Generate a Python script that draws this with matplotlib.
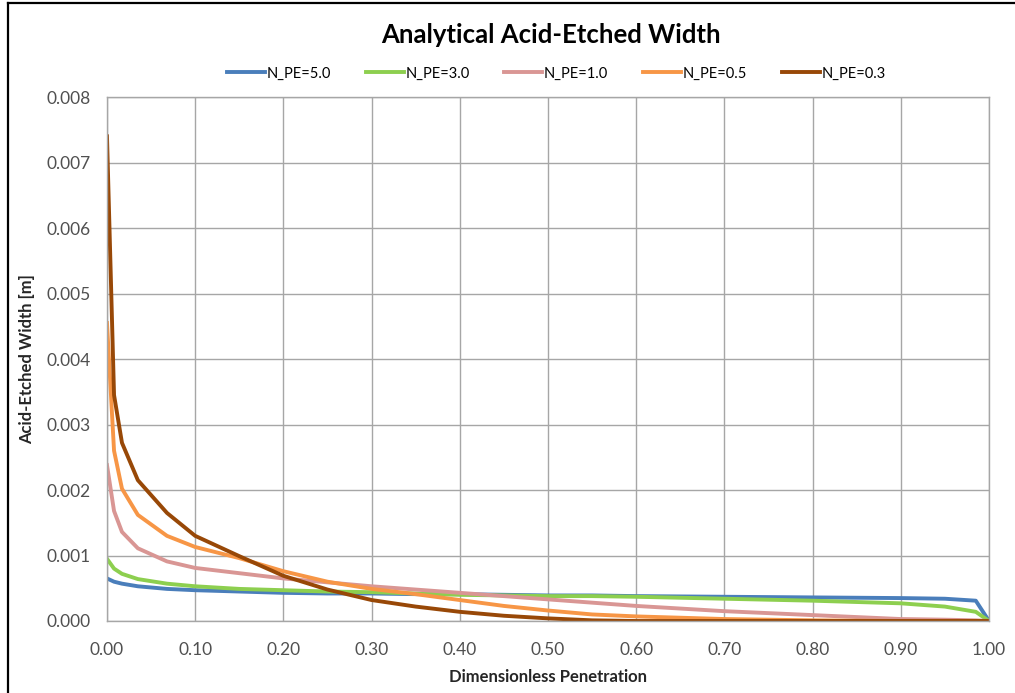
import numpy as np
import matplotlib.pyplot as plt
from matplotlib.lines import Line2D

# Dimensionless penetration nodes
x_pen = [0.0, 0.008, 0.017, 0.035, 0.068, 0.1, 0.15, 0.2, 0.25, 0.3, 0.35, 0.4, 0.45,
         0.5, 0.55, 0.6, 0.7, 0.8, 0.9, 0.95, 0.985, 1.0]

# Acid-etched width [m] per Peclet number
w_pe_5_0 = [0.00065, 0.00060, 0.00057, 0.00053, 0.00049, 0.00047, 0.00045, 0.00043, 0.00042, 0.00042,
            0.00041, 0.00041, 0.00040, 0.00039, 0.00039, 0.00038, 0.00037, 0.00036, 0.00035, 0.00034,
            0.00031, 0.0]
w_pe_3_0 = [0.00095, 0.00080, 0.00072, 0.00064, 0.00057, 0.00053, 0.00049, 0.00047, 0.00045, 0.00044,
            0.00042, 0.00040, 0.00039, 0.00038, 0.00038, 0.00037, 0.00034, 0.00031, 0.00027, 0.00022,
            0.00014, 0.0]
w_pe_1_0 = [0.00238, 0.00168, 0.00136, 0.00111, 0.00091, 0.00081, 0.00073, 0.00065, 0.00059, 0.00053,
            0.00048, 0.00043, 0.00038, 0.00033, 0.00028, 0.00023, 0.00015, 0.00009, 0.00003, 0.00002,
            0.00001, 0.0]
w_pe_0_5 = [0.00455, 0.00260, 0.00202, 0.00162, 0.00130, 0.00113, 0.00096, 0.00076, 0.00060, 0.00049,
            0.00041, 0.00032, 0.00023, 0.00016, 0.00010, 0.00007, 0.00003, 0.00001, 0.0, 0.0,
            0.0, 0.0]
w_pe_0_3 = [0.00740, 0.00345, 0.00272, 0.00215, 0.00165, 0.00130, 0.00099, 0.00069, 0.00048, 0.00032,
            0.00022, 0.00014, 0.00008, 0.00004, 0.00001, 0.0, 0.0, 0.0, 0.0, 0.0,
            0.0, 0.0]

series_labels = ['N_PE=5.0', 'N_PE=3.0', 'N_PE=1.0', 'N_PE=0.5', 'N_PE=0.3']
series_colors = ['#4A7EBB', '#8DCF4F', '#D99694', '#F79646', '#984807']

x_ticks = np.arange(0, 1.001, 0.1)
y_ticks = np.arange(0, 0.00801, 0.001)

plt.rcParams['font.family'] = ['Lato', 'DejaVu Sans']

fig = plt.figure(figsize=(10.15, 6.93), dpi=100)
ax = fig.add_axes([0.1054, 0.1039, 0.8690, 0.7561])

for ys, lab, col in zip([w_pe_5_0, w_pe_3_0, w_pe_1_0, w_pe_0_5, w_pe_0_3], series_labels, series_colors):
    ax.plot(x_pen, ys, color=col, linewidth=2.8, label=lab, solid_joinstyle='round')

ax.set_xlim(0, 1.0)
ax.set_ylim(0, 0.008)
ax.set_xticks(x_ticks)
ax.set_yticks(y_ticks)
ax.set_xticklabels([f'{v:.2f}' for v in x_ticks])
ax.set_yticklabels([f'{v:.3f}' for v in y_ticks])
ax.tick_params(length=0, labelsize=12.5, labelcolor='#505050')
ax.tick_params(axis='y', pad=12)
ax.tick_params(axis='x', pad=15)
ax.grid(True, color='#A6A6A6', linewidth=1.0)
ax.set_axisbelow(True)
for side in ['top', 'right', 'left', 'bottom']:
    ax.spines[side].set_color('#A6A6A6')
    ax.spines[side].set_linewidth(1.0)

ax.set_xlabel('Dimensionless Penetration', fontsize=12, fontweight='bold', color='#262626', labelpad=8)
ax.set_ylabel('Acid-Etched Width [m]', fontsize=12, fontweight='bold', color='#262626', labelpad=8)

fig.text(0.543, 0.949, 'Analytical Acid-Etched Width', ha='center', va='center',
         fontsize=18.5, fontweight='bold', color='black')

fig.legend(loc='center', bbox_to_anchor=(0.548, 0.894), ncol=5, frameon=False,
           fontsize=10.5, handlelength=2.6, handletextpad=0.1, columnspacing=2.4)

# frame lines along top and left edges
fig.add_artist(Line2D([8 / 1015, 8 / 1015], [0, 1 - 3 / 693], transform=fig.transFigure,
                      color='black', linewidth=1.6))
fig.add_artist(Line2D([8 / 1015, 1], [1 - 3 / 693, 1 - 3 / 693], transform=fig.transFigure,
                      color='black', linewidth=1.6))

fig.savefig('out.png', dpi=100)
